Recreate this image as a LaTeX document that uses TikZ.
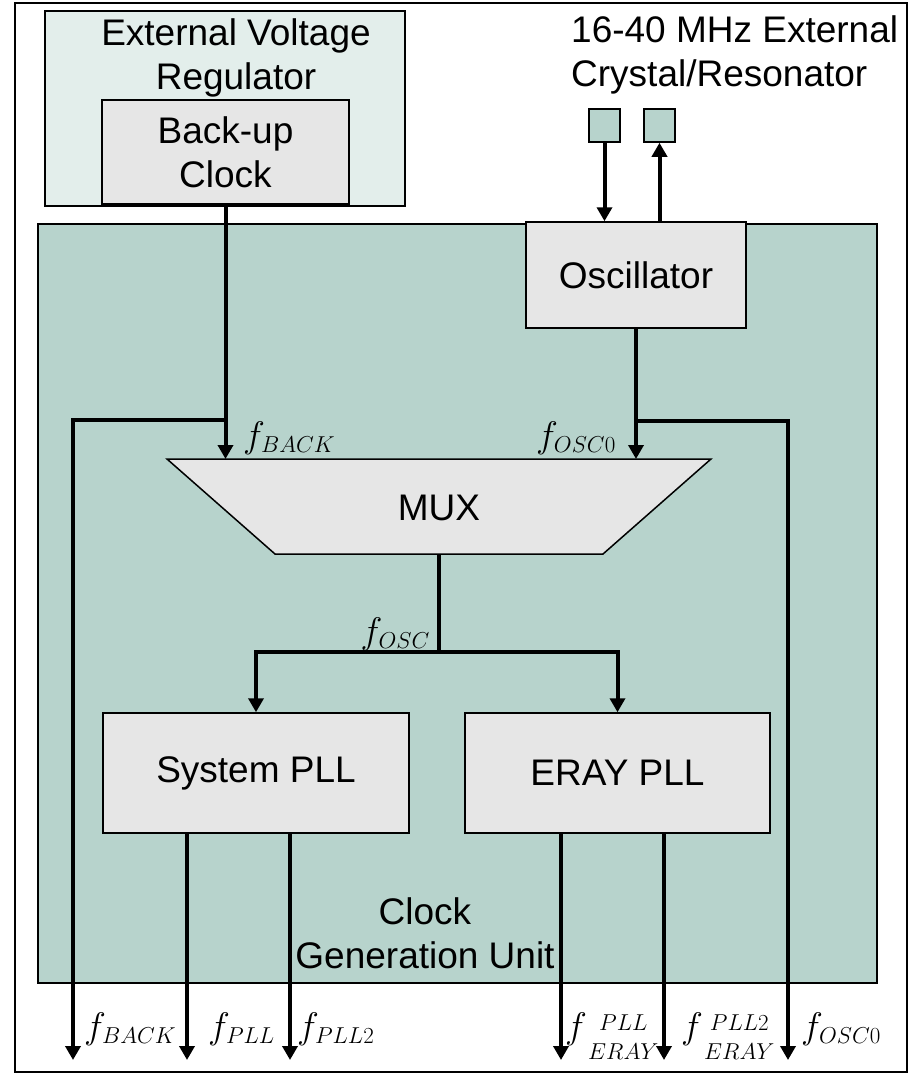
\RequirePackage{fix-cm}
\documentclass[tikz,border=0pt]{standalone}
\usepackage{amsmath}
\usepackage{fontspec}
\setmainfont{Liberation Sans}
\DeclareMathSizes{37}{37}{23}{17}
\usetikzlibrary{arrows.meta}
\definecolor{cgugreen}{RGB}{183,211,204}
\definecolor{regcolor}{RGB}{227,238,235}
\definecolor{boxgray}{RGB}{230,230,230}
\tikzstyle{block} = [rectangle, draw, line width=1.5pt, fill=boxgray, inner sep=0pt, align=center, font=\fontsize{37}{44}\selectfont]
\tikzstyle{muxbox} = [draw, line width=1.5pt, fill=boxgray, line join=miter]
\tikzstyle{pad} = [rectangle, draw, line width=1.5pt, fill=cgugreen, minimum width=31pt, minimum height=33pt, inner sep=0pt]
\tikzstyle{txt} = [inner sep=0pt, align=center, font=\fontsize{37}{44}\selectfont]
\tikzstyle{lbl} = [inner sep=0pt, font=\fontsize{37}{44}\selectfont]
\tikzstyle{sig} = [line width=4pt, -{Triangle[width=15pt,length=14pt]}]
\tikzstyle{wire} = [line width=4pt]

\begin{document}
\begin{tikzpicture}[x=1pt, y=-1pt]
  \useasboundingbox (0,0) rectangle (912,1074);
  \draw[line width=1.5pt] (15,3) rectangle (907,1072);

  % regulator
  \node[block, fill=regcolor, minimum width=360pt, minimum height=195pt] (evr) at (225,108.5) {};
  \node[txt, anchor=north] (evrtext) at (236,18) {External Voltage\\Regulator};
  \node[block, minimum width=247pt, minimum height=104pt] (bkclk) at (225.5,152) {Back-up\\Clock};

  % crystal
  \node[txt, anchor=north west, align=left] (xtal) at (571,15) {16-40 MHz External\\Crystal/Resonator};
  \node[pad] (pad1) at (604.5,125.5) {};
  \node[pad] (pad2) at (659.5,125.5) {};

  % clock generation unit
  \node[block, fill=cgugreen, minimum width=839pt, minimum height=759pt] (cgu) at (457.5,603.5) {};
  \node[txt, anchor=north] (cgutext) at (425,897) {Clock\\Generation Unit};

  \node[block, minimum width=220pt, minimum height=106pt] (osc) at (636,275) {Oscillator};
  \draw[muxbox] (167,459) coordinate (muxtop) -- (711,459) -- (603,554) -- (275,554) -- cycle;
  \node[txt] (mux) at (439,508) {MUX};
  \coordinate (muxout) at (439,554);
  \node[block, minimum width=306pt, minimum height=120pt] (syspll) at (256,773) {System PLL};
  \node[block, minimum width=305pt, minimum height=120pt] (eraypll) at (617.5,773) {ERAY PLL};

  % junctions and outputs
  \coordinate (jback) at (225.5,420);
  \coordinate (josc) at (636,421);
  \coordinate (split) at (439,652);
  \coordinate (backout) at (73,1060);
  \coordinate (pllout) at (187,1060);
  \coordinate (pll2out) at (290,1060);
  \coordinate (epllout) at (561,1060);
  \coordinate (epll2out) at (664,1060);
  \coordinate (oscout) at (788,1060);

  % crystal pins
  \draw[sig] (pad1.south) -- (pad1.south |- osc.north);
  \draw[sig] (osc.north -| pad2.south) -- (pad2.south);

  % mux inputs
  \draw[sig] (bkclk.south) -- (bkclk.south |- muxtop);
  \draw[sig] (osc.south) -- (osc.south |- muxtop);
  \draw[sig] (jback) -- (jback -| backout) -- (backout);
  \draw[sig] (josc) -- (josc -| oscout) -- (oscout);

  % mux output
  \draw[wire] (muxout) -- (split);
  \draw[sig] (split) -- (split -| syspll.north) -- (syspll.north);
  \draw[sig] (split) -- (split -| eraypll.north) -- (eraypll.north);

  % pll outputs
  \draw[sig] (syspll.south -| pllout) -- (pllout);
  \draw[sig] (syspll.south -| pll2out) -- (pll2out);
  \draw[sig] (eraypll.south -| epllout) -- (epllout);
  \draw[sig] (eraypll.south -| epll2out) -- (epll2out);

  % labels
  \node[lbl, anchor=base west] (lbackin) at (243,447) {$f_{BACK}$};
  \node[lbl, anchor=base east] (loscin) at (616,447) {$f_{OSC0}$};
  \node[lbl, anchor=base east] (losc) at (430,643) {$f_{OSC}$};
  \node[lbl, anchor=base west] (lback) at (84,1038) {$f_{BACK}$};
  \node[lbl, anchor=base west] (lpll) at (208,1038) {$f_{PLL}$};
  \node[lbl, anchor=base west] (lpll2) at (297,1038) {$f_{PLL2}$};
  \node[lbl, anchor=base west] (lepll) at (565,1038) {$f\raisebox{-9pt}{$\genfrac{}{}{0pt}{1}{PLL}{ERAY}$}$};
  \node[lbl, anchor=base west] (lepll2) at (681,1038) {$f\raisebox{-9pt}{$\genfrac{}{}{0pt}{1}{PLL2}{ERAY}$}$};
  \node[lbl, anchor=base west] (losco) at (801,1038) {$f_{OSC0}$};
\end{tikzpicture}
\end{document}
